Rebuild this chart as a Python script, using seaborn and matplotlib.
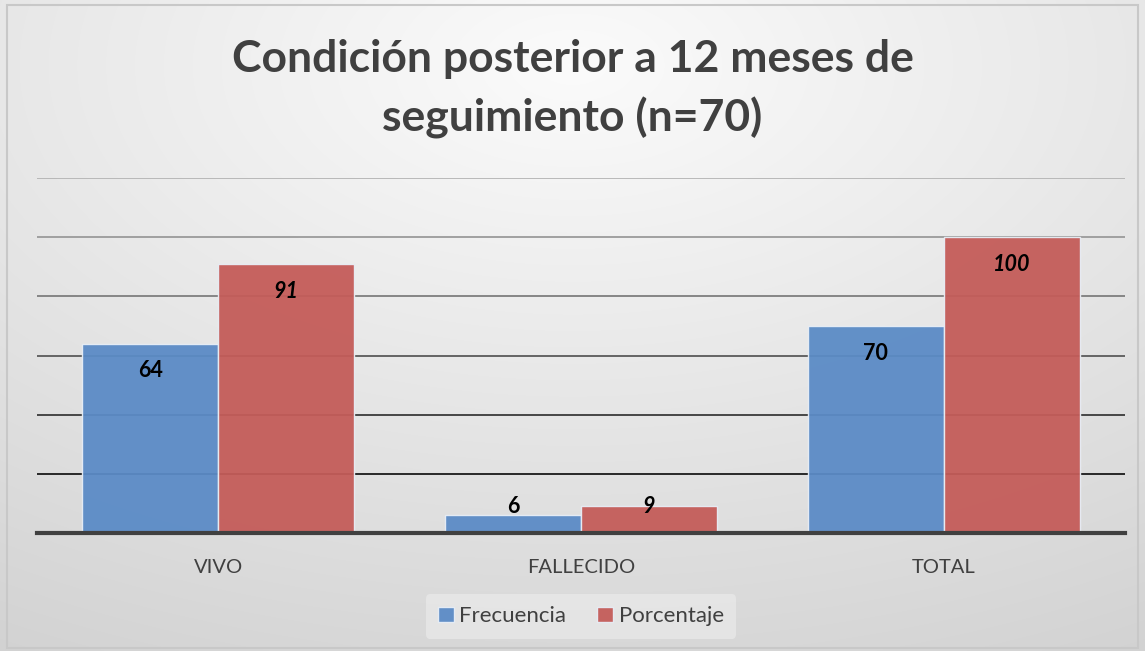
import numpy as np
import pandas as pd
import matplotlib
matplotlib.use("Agg")
import matplotlib.pyplot as plt
import seaborn as sns
from matplotlib.patches import Rectangle

categories = ["VIVO", "FALLECIDO", "TOTAL"]
frecuencia = [64, 6, 70]
porcentaje = [91, 9, 100]
series_names = ["Frecuencia", "Porcentaje"]
title = "Condición posterior a 12 meses de\nseguimiento (n=70)"

df = pd.DataFrame({
    "cat": categories * 2,
    "serie": [series_names[0]] * 3 + [series_names[1]] * 3,
    "valor": frecuencia + porcentaje,
})

sns.set_theme(style="white")
plt.rcParams["font.family"] = ["Lato", "DejaVu Sans"]

W, H = 1145, 651
fig = plt.figure(figsize=(W / 100, H / 100), dpi=100)

# background gradient
bg = fig.add_axes([0, 0, 1, 1], zorder=-10)
yy, xx = np.mgrid[0:H, 0:W]
d = np.sqrt(((xx - W * 0.5) / W) ** 2 + ((yy - H * 0.1) / H) ** 2)
d = d / d.max()
val = 0.985 - 0.16 * d
img = np.dstack([val, val, val])
bg.imshow(img, extent=[0, 1, 0, 1], aspect="auto", origin="upper")
bg.set_xlim(0, 1); bg.set_ylim(0, 1)
bg.axis("off")
bg.add_patch(Rectangle((0.006, 0.004), 0.988, 0.988, fill=False,
                       edgecolor="#c8c8c8", linewidth=1.5))

ax = fig.add_axes([37 / W, 1 - 533 / H, (1125 - 37) / W, (533 - 178) / H])
ax.patch.set_alpha(0)

colors = {"Frecuencia": "#5b8bc6", "Porcentaje": "#c45c59"}
sns.barplot(data=df, x="cat", y="valor", hue="serie", palette=colors,
            saturation=1, width=0.75, alpha=0.95, edgecolor="#e8eef6",
            linewidth=1.0, ax=ax, legend=True, zorder=3)

ax.set_ylim(0, 120)
ax.set_xlim(-0.5, 2.5)
ax.set_yticks([20, 40, 60, 80, 100, 120])
ax.yaxis.grid(True, zorder=0)
ax.set_axisbelow(True)
grid_cols = ["#1a1a1a", "#3a3a3a", "#5a5a5a", "#7e7e7e", "#9a9a9a", "#b4b4b4"]
for gl, c in zip(ax.get_ygridlines(), grid_cols):
    gl.set_color(c)
    gl.set_linewidth(1.3)
ax.tick_params(axis="y", left=False, labelleft=False)
ax.tick_params(axis="x", bottom=False, labelsize=14.5, colors="#404040", pad=13)
ax.set_xlabel("")
ax.set_ylabel("")
for s in ["top", "right", "left"]:
    ax.spines[s].set_visible(False)
ax.spines["bottom"].set_color("#404040")
ax.spines["bottom"].set_linewidth(3)
ax.spines["bottom"].set_zorder(5)

# data labels
for cont, style in zip(ax.containers, ["normal", "italic"]):
    for bar in cont:
        v = bar.get_height()
        x = bar.get_x() + bar.get_width() / 2
        ylab = max(v - 9.2, 8.8)
        ax.text(x, ylab, f"{v:.0f}", ha="center", va="center",
                fontsize=15.5, fontweight="bold", style=style,
                color="black", zorder=6)

leg = ax.legend(loc="center", bbox_to_anchor=(0.5, -0.235), ncol=2,
                frameon=True, fontsize=16, handlelength=0.7, handleheight=0.7,
                handletextpad=0.25, columnspacing=1.4, borderpad=0.55)
leg.get_frame().set_facecolor("#e8e8e8")
leg.get_frame().set_edgecolor("none")
leg.get_frame().set_alpha(0.8)
for t in leg.get_texts():
    t.set_color("#404040")

fig.text(0.5, 1 - 89 / H, title, ha="center", va="center", fontsize=32,
         fontweight="bold", color="#404040", linespacing=1.5)

fig.savefig("out.png", dpi=100)
